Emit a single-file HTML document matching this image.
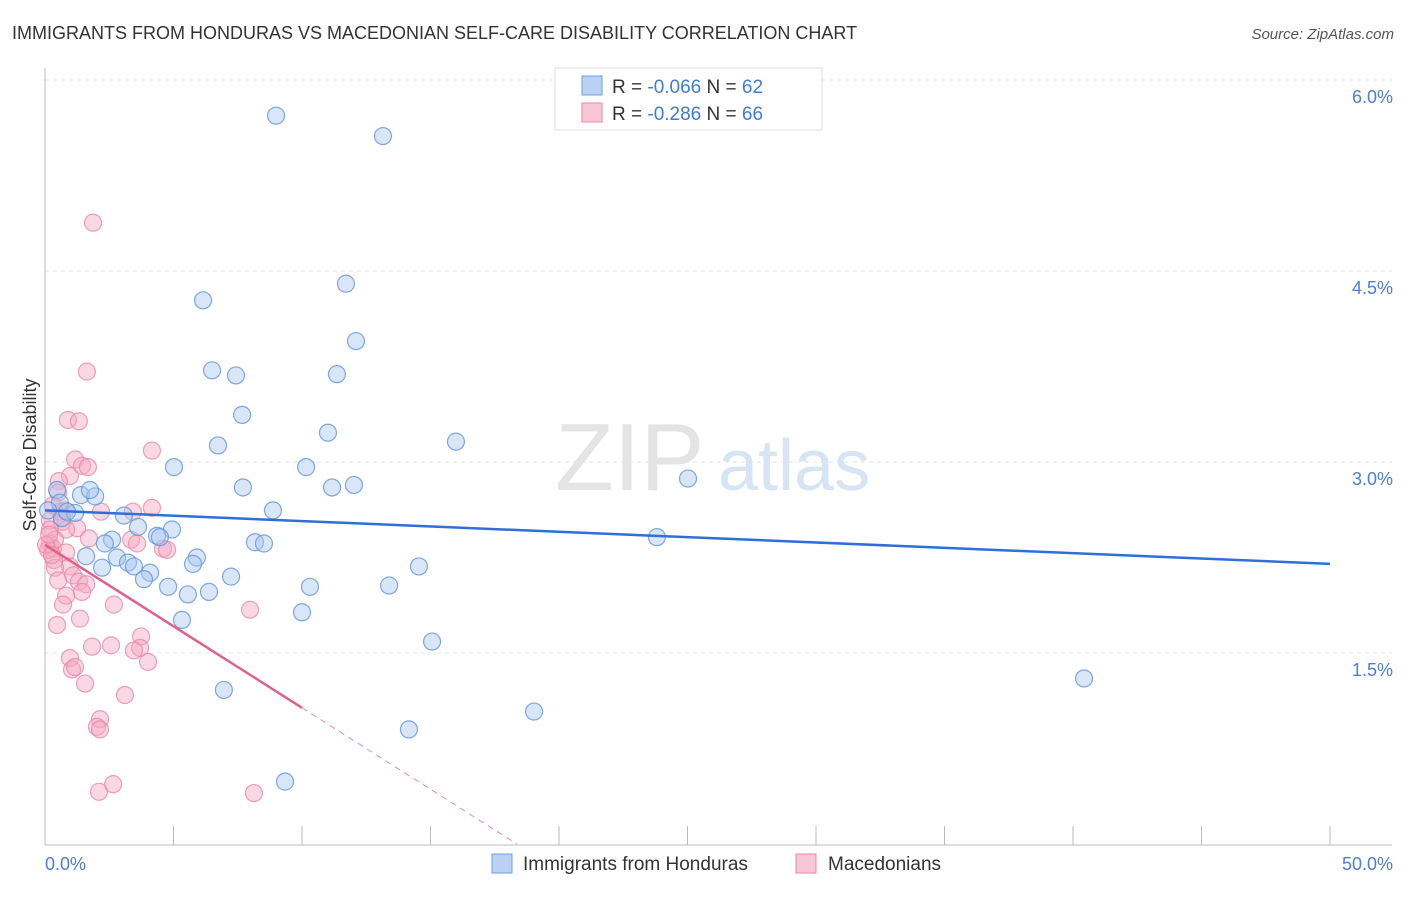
<!DOCTYPE html>
<html><head><meta charset="utf-8"><style>
body{margin:0;background:#fff;font-family:"Liberation Sans",sans-serif}
svg text{font-family:"Liberation Sans",sans-serif}
</style></head><body>
<svg id="chart" width="1406" height="892">
<text x="12" y="39" font-size="18" fill="#333">IMMIGRANTS FROM HONDURAS VS MACEDONIAN SELF-CARE DISABILITY CORRELATION CHART</text>
<text x="1394" y="39" font-size="15" fill="#555" font-style="italic" text-anchor="end">Source: ZipAtlas.com</text>
<g id="grid"></g>
<g><text x="555" y="490" font-size="96" fill="#e4e4e4" font-family="Liberation Serif">ZIP</text><text x="718" y="490" font-size="72" fill="#d6e4f4">atlas</text></g>
<line x1="45" y1="68" x2="45" y2="845" stroke="#bbb"/>
<line x1="45" y1="845" x2="1392" y2="845" stroke="#bbb"/>
<g id="ticks"></g>
<text x="36" y="455" font-size="18" fill="#333" text-anchor="middle" transform="rotate(-90 36 455)">Self-Care Disability</text>
<text x="45" y="870" font-size="18" fill="#4a7fd4">0.0%</text>
<text x="1393" y="870" font-size="18" fill="#4a7fd4" text-anchor="end">50.0%</text>
<g id="pink"></g>
<g id="blue"></g>
<g id="trends"></g>
<g>
<rect x="555" y="68" width="267" height="62" fill="#fff" stroke="#ddd"/>
<rect x="582" y="76" width="20" height="19" fill="#b9d2f3" stroke="#6f9fe0"/>
<rect x="582" y="103" width="20" height="19" fill="#f9c6d5" stroke="#e889a8"/>
<text x="612" y="93" font-size="19" fill="#333">R = <tspan fill="#3f7bd8">-0.066</tspan>   N = <tspan fill="#3f7bd8">62</tspan></text>
<text x="612" y="120" font-size="19" fill="#333">R = <tspan fill="#3f7bd8"> -0.286</tspan>   N = <tspan fill="#3f7bd8">66</tspan></text>
</g>
<g>
<rect x="492" y="854" width="20" height="19" fill="#b9d2f3" stroke="#6f9fe0"/>
<text x="523" y="870" font-size="19" fill="#333">Immigrants from Honduras</text>
<rect x="796" y="854" width="20" height="19" fill="#f9c6d5" stroke="#e889a8"/>
<text x="828" y="870" font-size="19" fill="#333">Macedonians</text>
</g>
</svg>
<script>
const yTicks=[1.5,3.0,4.5,6.0];
const yTickLabels=["1.5%","3.0%","4.5%","6.0%"];
const xTicks=[0,5,10,15,20,25,30,35,40,45,50];
const blueX=[8.99,13.15,6.15,11.71,12.10,6.50,7.43,11.36,7.67,6.73,11.01,15.99,5.02,10.16,7.70,11.17,12.02,25.02,8.87,0.47,0.58,1.40,1.95,1.75,0.12,0.66,1.17,3.07,3.62,4.94,4.36,4.47,2.61,2.33,8.17,8.52,1.60,2.80,3.23,5.91,3.46,2.22,4.09,3.85,5.76,7.24,14.55,4.79,5.56,6.38,10.31,13.39,5.33,10.00,15.06,23.81,40.43,6.96,19.03,14.16,9.34,0.86];
const blueY=[5.72,5.56,4.27,4.40,3.95,3.72,3.68,3.69,3.37,3.13,3.23,3.16,2.96,2.96,2.80,2.80,2.82,2.87,2.62,2.78,2.68,2.74,2.73,2.78,2.62,2.56,2.60,2.58,2.49,2.47,2.42,2.41,2.39,2.36,2.37,2.36,2.26,2.25,2.21,2.25,2.18,2.17,2.13,2.08,2.20,2.10,2.18,2.02,1.96,1.98,2.02,2.03,1.76,1.82,1.59,2.41,1.30,1.21,1.04,0.90,0.49,2.61];
const pinkX=[1.87,1.63,0.89,1.32,4.16,1.17,0.97,1.44,1.67,0.54,0.51,0.31,2.18,4.16,3.42,0.19,0.66,1.25,0.82,1.71,3.35,3.58,4.59,4.75,0.19,0.31,0.82,0.35,0.97,1.09,0.39,1.32,1.60,1.44,0.82,2.68,0.70,1.36,0.47,7.98,3.74,1.83,2.57,3.70,3.46,4.01,0.97,1.05,1.17,1.56,3.11,2.14,2.02,2.14,2.10,2.65,8.13,0.19,0.12,0.39,0.58,0.78,0.04,0.27,0.51,0.16];
const pinkY=[4.88,3.71,3.33,3.32,3.09,3.02,2.89,2.97,2.96,2.85,2.76,2.66,2.61,2.64,2.61,2.54,2.53,2.48,2.47,2.40,2.39,2.36,2.32,2.31,2.36,2.32,2.29,2.23,2.18,2.11,2.17,2.06,2.04,1.98,1.95,1.88,1.88,1.77,1.72,1.84,1.63,1.55,1.56,1.54,1.52,1.43,1.46,1.37,1.39,1.26,1.17,0.98,0.92,0.90,0.41,0.47,0.40,2.47,2.31,2.39,2.61,2.62,2.35,2.27,2.07,2.43];
const blueTrend=[2.62,2.20];
const pinkTrend=[2.35,1.07];
const pinkSolidEnd=10;
const NS="http://www.w3.org/2000/svg";
const xs=v=>45+v*25.7, ys=v=>844-v*127.33;
function mk(t,p,a){const e=document.createElementNS(NS,t);for(const k in a)e.setAttribute(k,a[k]);p.appendChild(e);return e;}
const grid=document.getElementById('grid');
yTicks.forEach((v,i)=>{
 const l=mk('line',grid,{x1:45,x2:1392,y1:ys(v),y2:ys(v),stroke:'#e3e3e3','stroke-dasharray':'4,4'});
 
 
 const t=mk('text',grid,{x:1393,y:ys(v)+23,'font-size':18,fill:'#4a7fd4','text-anchor':'end'});
 t.textContent=yTickLabels[i];
 
 
});
const tk=document.getElementById('ticks');
xTicks.forEach(v=>{
 const l=mk('line',tk,{x1:xs(v),x2:xs(v),y1:826,y2:845,stroke:'#bbb'});
 
 
});
function pts(g,X,Y,fill,stroke,name){X.forEach((x,i)=>{
 const c=mk('circle',g,{cx:xs(x),cy:ys(Y[i]),r:8.5,fill:fill,'fill-opacity':0.45,stroke:stroke,'stroke-width':1.2,'stroke-opacity':0.8});
 
 
});}
pts(document.getElementById('pink'),pinkX,pinkY,'#f4a8c0','#e889a8','macedonians-point');
pts(document.getElementById('blue'),blueX,blueY,'#a9c8f0','#5f93dd','honduras-point');
const tr=document.getElementById('trends');
const bl=mk('line',tr,{x1:xs(0),y1:ys(blueTrend[0]),x2:xs(50),y2:ys(blueTrend[1]),stroke:'#2f6fd6','stroke-width':2.5});


const slope=(pinkTrend[1]-pinkTrend[0])/10, pAt=x=>pinkTrend[0]+slope*x;
const pl=mk('line',tr,{x1:xs(0),y1:ys(pinkTrend[0]),x2:xs(pinkSolidEnd),y2:ys(pAt(pinkSolidEnd)),stroke:'#e0608a','stroke-width':2.5});


const xz=-pinkTrend[0]/slope;
const pd=mk('line',tr,{x1:xs(pinkSolidEnd),y1:ys(pAt(pinkSolidEnd)),x2:xs(xz),y2:ys(0),stroke:'#e889a8','stroke-width':1,'stroke-dasharray':'6,5'});


</script>
</body></html>
